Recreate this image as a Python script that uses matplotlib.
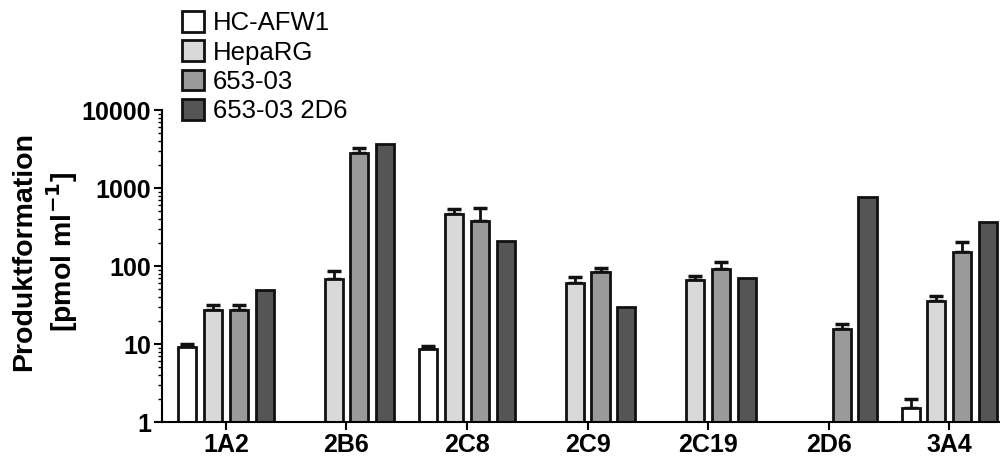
import matplotlib
matplotlib.use("Agg")
import matplotlib.pyplot as plt
import numpy as np
from matplotlib.ticker import LogLocator, NullFormatter

categories = ["1A2", "2B6", "2C8", "2C9", "2C19", "2D6", "3A4"]
series_names = ["HC-AFW1", "HepaRG", "653-03", "653-03 2D6"]

hc_afw1 = [9.2, np.nan, 8.6, np.nan, np.nan, 1.0, 1.5]
hc_afw1_err = [0.9, 0, 0.8, 0, 0, 0, 0.5]
heparg = [27, 68, 465, 60, 66, 1.0, 36]
heparg_err = [5, 18, 70, 12, 8, 0, 5]
c653 = [27, 2800, 378, 84, 91, 15.5, 151]
c653_err = [5, 450, 170, 10, 21, 2.5, 51]
c653_2d6 = [49, 3650, 209, 30, 70, 770, 367]

colors = ["#ffffff", "#d9d9d9", "#9a9a9a", "#555555"]

plt.rcParams['font.family'] = ['Liberation Sans', 'DejaVu Sans']

fig = plt.figure(figsize=(10, 4.57), dpi=100)
ax = fig.add_axes([0.162, 35/457, 0.838, 312/457])

x = np.arange(len(categories))
pitch = 0.214
width = 0.150
vals = [hc_afw1, heparg, c653, c653_2d6]
errs = [hc_afw1_err, heparg_err, c653_err, None]
handles = []
for i, (v, e, c) in enumerate(zip(vals, errs, colors)):
    pos = x + (i - 1.5) * pitch
    v = np.array(v, dtype=float)
    h = ax.bar(pos, v - 1, bottom=1, width=width, color=c, edgecolor="#111111",
               linewidth=2, label=series_names[i], zorder=2)
    handles.append(h)
    if e is not None:
        e = np.array(e, dtype=float)
        mask = (~np.isnan(v)) & (e > 0)
        ax.errorbar(pos[mask], v[mask], yerr=[np.zeros(mask.sum()), e[mask]],
                    fmt="none", ecolor="#111111", elinewidth=2, capsize=5,
                    capthick=2.5, zorder=1)

ax.set_yscale("log")
ax.set_ylim(1, 10000)
ax.set_xlim(-0.53, 6.42)
ax.set_xticks(x)
ax.set_xticklabels(categories, fontsize=18, fontweight="bold")
ax.set_yticks([1, 10, 100, 1000, 10000])
ax.set_yticklabels(["1", "10", "100", "1000", "10000"], fontsize=18, fontweight="bold")
ax.yaxis.set_minor_locator(LogLocator(base=10, subs=np.arange(2, 10)))
ax.yaxis.set_minor_formatter(NullFormatter())
ax.tick_params(axis="y", which="major", length=6, width=1.5, pad=2)
ax.tick_params(axis="y", which="minor", length=3, width=1)
ax.tick_params(axis="x", which="major", length=6, width=1.5, pad=2)
ax.tick_params(axis="x", which="minor", length=0)
for s in ["top", "right"]:
    ax.spines[s].set_visible(False)
for s in ["left", "bottom"]:
    ax.spines[s].set_linewidth(1.5)

fig.text(0.024, 0.449, "Produktformation", rotation=90, ha="center", va="center",
         fontsize=20.5, fontweight="bold")
fig.text(0.062, 0.449, r"[pmol ml$^{\mathbf{-1}}$]", rotation=90, ha="center", va="center",
         fontsize=20.5, fontweight="bold")

leg = fig.legend(handles=handles, labels=series_names, loc="upper left",
                 bbox_to_anchor=(0.172, 0.998), frameon=False, fontsize=18.5,
                 handlelength=0.85, handleheight=0.85, handletextpad=0.35,
                 labelspacing=0.2, borderaxespad=0)

fig.savefig("out.png", dpi=100)
